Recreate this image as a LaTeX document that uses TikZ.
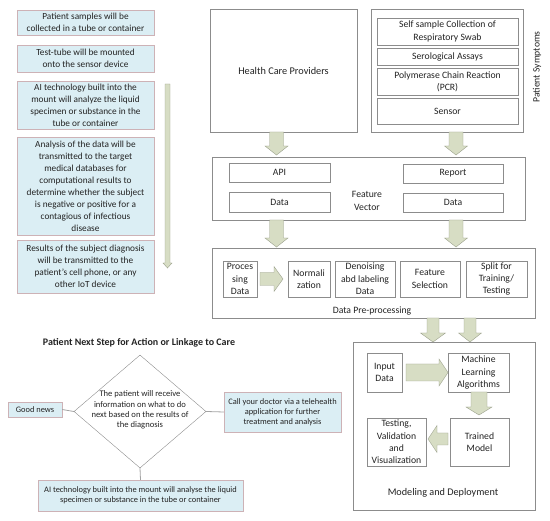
\documentclass[tikz,border=0pt]{standalone}
\usepackage{fontspec}
\setmainfont{Carlito}
\usetikzlibrary{shapes.geometric}

\definecolor{boxblue}{RGB}{219,238,244}
\definecolor{boxrose}{RGB}{205,178,182}
\definecolor{boxgray}{RGB}{140,140,140}
\definecolor{arrowfill}{RGB}{215,221,196}
\definecolor{arrowline}{RGB}{155,160,140}
\definecolor{txt}{RGB}{35,35,35}

\tikzset{
  lbox/.style={draw=boxrose, fill=boxblue, align=center, inner sep=0pt, text=txt,
    font=\fontsize{9.3}{12}\selectfont},
  sbox/.style={draw=boxrose, fill=boxblue, align=center, inner sep=0pt, text=txt,
    font=\fontsize{8.4}{10.2}\selectfont},
  gbox/.style={draw=boxgray, fill=white, align=center, inner sep=0pt, text=txt,
    font=\fontsize{9.7}{12.3}\selectfont},
  plain/.style={align=center, inner sep=0pt, text=txt, font=\fontsize{9.7}{12.3}\selectfont},
  blockarrow/.style={draw=arrowline, fill=arrowfill, line join=miter},
  link/.style={draw=boxgray!80, line width=0.8pt}
}

% cx, y0, y1, shaft half, head half, head length
\newcommand{\varrow}[6]{%
  \draw[blockarrow] ({#1-#4},{#2}) -- ({#1+#4},{#2}) -- ({#1+#4},{#3-(#6)}) -- ({#1+#5},{#3-(#6)})
    -- ({#1},{#3}) -- ({#1-#5},{#3-(#6)}) -- ({#1-#4},{#3-(#6)}) -- cycle;}
% cy, x0, x1, shaft half, head half, head length (negative for leftwards)
\newcommand{\harrow}[6]{%
  \draw[blockarrow] ({#2},{#1-#4}) -- ({#2},{#1+#4}) -- ({#3-(#6)},{#1+#4}) -- ({#3-(#6)},{#1+#5})
    -- ({#3},{#1}) -- ({#3-(#6)},{#1-#5}) -- ({#3-(#6)},{#1-#4}) -- cycle;}

\begin{document}
\begin{tikzpicture}[x=1pt,y=-1pt]
\useasboundingbox (0,0) rectangle (550,521);

% left column
\node[lbox, minimum width=137, minimum height=25] (samples) at (85.5,22.5)
  {Patient samples will be\\collected in a tube or container};
\node[lbox, minimum width=137, minimum height=27] (mount) at (85.5,58.5)
  {Test-tube will be mounted\\onto the sensor device};
\node[lbox, minimum width=137, minimum height=48] (analyze) at (85.5,105)
  {AI technology built into the\\mount will analyze the liquid\\specimen or substance in the\\tube or container};
\node[lbox, minimum width=137, minimum height=98] (transmit) at (85.5,186)
  {Analysis of the data will be\\transmitted to the target\\medical databases for\\computational results to\\determine whether the subject\\is negative or positive for a\\contagious of infectious\\disease};
\node[lbox, minimum width=137, minimum height=53] (results) at (85.5,266.5)
  {Results of the subject diagnosis\\will be transmitted to the\\patient's cell phone, or any\\other IoT device};
\varrow{167.5}{84}{268}{2.5}{4.5}{5}

% top right
\node[gbox, minimum width=147, minimum height=123, font=\fontsize{10.3}{12.3}\selectfont] (hcp) at (283.5,70.5) {Health Care Providers};
\node[gbox, minimum width=152, minimum height=123] (symptoms) at (447,70.5) {};
\node[gbox, minimum width=141, minimum height=27] (swab) at (447.5,31.5)
  {Self sample Collection of\\Respiratory Swab};
\node[gbox, minimum width=141, minimum height=17] (assays) at (447.5,56.5) {Serological Assays};
\node[gbox, minimum width=141, minimum height=27] (pcr) at (447.5,81.5)
  {Polymerase Chain Reaction\\(PCR)};
\node[gbox, minimum width=141, minimum height=26] (sensor) at (447.5,111) {Sensor};
\node[plain, rotate=90] (symlabel) at (537,67) {Patient Symptoms};

\varrow{276.5}{132}{155}{7}{11.5}{9}
\varrow{456}{132}{155}{7}{11.5}{9}

% feature vector
\node[gbox, minimum width=313, minimum height=63] (fv) at (368.5,188.5) {};
\node[gbox, minimum width=101, minimum height=19] (api) at (279.5,172.5) {API};
\node[gbox, minimum width=101, minimum height=20] (datal) at (279.5,202) {Data};
\node[gbox, minimum width=100, minimum height=19] (report) at (453,173.5) {Report};
\node[gbox, minimum width=100, minimum height=19] (datar) at (453,202.5) {Data};
\node[plain] (fvlabel) at (367,201) {Feature\\Vector};

\varrow{276.5}{220}{247}{7}{11.5}{9}
\varrow{456}{220}{247}{7}{11.5}{9}

% data pre-processing
\node[gbox, minimum width=323, minimum height=70] (dp) at (373.5,283) {};
\node[gbox, minimum width=34, minimum height=36] (proc) at (240,279) {Proces\\sing\\Data};
\node[gbox, minimum width=42, minimum height=36] (norm) at (309,279) {Normali\\zation};
\node[gbox, minimum width=60, minimum height=36] (denoise) at (365,279) {Denoising\\abd labeling\\Data};
\node[gbox, minimum width=60, minimum height=36] (select) at (430,279) {Feature\\Selection};
\node[gbox, minimum width=61, minimum height=36] (split) at (496.5,279) {Split for\\Training/\\Testing};
\node[plain] (dplabel) at (372,311) {Data Pre-processing};
\harrow{279}{260}{283}{6.5}{12.5}{9}

\varrow{433}{318}{342}{6}{12.5}{9}
\varrow{470}{318}{342}{6}{11.5}{9}

% modeling and deployment
\node[gbox, minimum width=182, minimum height=168] (md) at (444,426) {};
\node[gbox, minimum width=35, minimum height=39] (input) at (384.5,372.5) {Input\\Data};
\node[gbox, minimum width=61, minimum height=39] (ml) at (478.5,372.5) {Machine\\Learning\\Algorithms};
\node[gbox, minimum width=59, minimum height=48] (trained) at (479.5,442) {Trained\\Model};
\node[gbox, minimum width=59, minimum height=48] (testing) at (396.5,442)
  {Testing,\\Validation\\and\\Visualization};
\node[plain, font=\fontsize{10.2}{12.3}\selectfont] (mdlabel) at (443,493) {Modeling and Deployment};
\harrow{372.5}{406}{448}{8.5}{13.5}{9}
\varrow{479}{392}{415}{8}{13}{8}
\harrow{439}{448}{428}{6}{13.5}{-9}

% next step
\node[plain, font=\fontsize{10}{12}\selectfont\bfseries] (title) at (139,343)
  {Patient Next Step for Action or Linkage to Care};
\node[diamond, draw=boxgray, minimum width=132, minimum height=113, inner sep=0pt] (step) at (140,411.5) {};
\node[plain, font=\fontsize{8.6}{10.3}\selectfont] (steptext) at (140,410)
  {The patient will receive\\information on what to do\\next based on the results of\\the diagnosis};
\node[sbox, minimum width=54, minimum height=15] (good) at (35,409.5) {Good news};
\node[sbox, minimum width=117, minimum height=40] (call) at (282.5,412)
  {Call your doctor via a telehealth\\application for further\\treatment and analysis};
\node[sbox, minimum width=205, minimum height=31] (liquid) at (140.5,495.5)
  {AI technology built into the mount will analyse the liquid\\specimen or substance in the tube or container};
\draw[link] (good.east) -- (step.west);
\draw[link] (step.east) -- (call.west);
\draw[link] (step.south) -- (liquid.north);

\end{tikzpicture}
\end{document}
